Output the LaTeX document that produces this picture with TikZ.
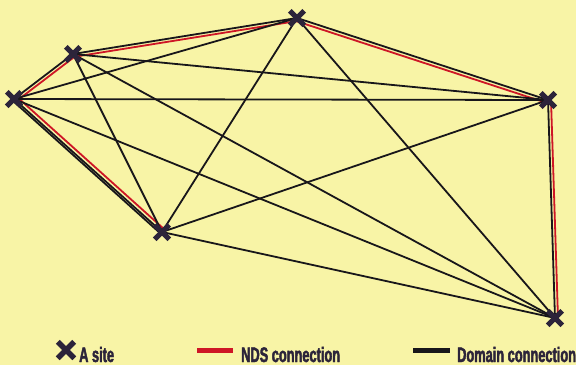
\documentclass[tikz,border=0pt]{standalone}
\usepackage{fontspec}
\newfontfamily\legendfont[UprightFont={* Bold},FakeStretch=0.61,FakeBold=2]{Liberation Sans}
\usetikzlibrary{shapes.misc}
\definecolor{bgyellow}{RGB}{248,244,166}
\definecolor{ndsred}{RGB}{206,22,38}
\definecolor{domblack}{RGB}{24,22,26}
\definecolor{markcol}{RGB}{44,36,58}
\tikzset{
  domline/.style={draw=domblack, line width=1.8pt},
  ndsline/.style={draw=ndsred, line width=1.8pt},
  sitemark/.style={cross out, draw=markcol, line width=5pt, minimum size=9.5pt, inner sep=0pt},
  keysite/.style={cross out, draw=markcol, line width=5.5pt, minimum size=11pt, inner sep=0pt},
  keyline/.style={line width=5pt},
  keytext/.style={anchor=base west, inner sep=0pt, text=markcol, font=\legendfont\fontsize{21}{24}\selectfont}
}
\begin{document}
\begin{tikzpicture}[x=1pt,y=-1pt]
\useasboundingbox[fill=bgyellow] (0,0) rectangle (576,365);
% sites
\coordinate (A) at (73,54);
\coordinate (B) at (297,18);
\coordinate (C) at (14,99);
\coordinate (D) at (548,100);
\coordinate (E) at (162,232);
\coordinate (F) at (555,318);
% NDS connections (offset beside their domain lines)
\draw[ndsline, transform canvas={xshift=2pt,yshift=-2.4pt}] (C) -- (A);
\draw[ndsline, transform canvas={yshift=-3pt}] (A) -- (B);
\draw[ndsline, transform canvas={xshift=-1.2pt,yshift=-3pt}] (B) -- (D);
\draw[ndsline, transform canvas={xshift=3pt}] (D) -- (F);
\draw[ndsline, transform canvas={xshift=2.4pt,yshift=2.6pt}] (C) -- (E);
% domain connections (complete graph)
\draw[domline] (A) -- (B);
\draw[domline] (A) -- (C);
\draw[domline] (A) -- (D);
\draw[domline] (A) -- (E);
\draw[domline] (A) -- (F);
\draw[domline] (B) -- (C);
\draw[domline] (B) -- (D);
\draw[domline] (B) -- (E);
\draw[domline] (B) -- (F);
\draw[domline] (C) -- (D);
\draw[domline] (C) -- (E);
\draw[domline, transform canvas={xshift=-1.5pt,yshift=-1.5pt}] (C) -- (E);
\draw[domline] (C) -- (F);
\draw[domline] (D) -- (E);
\draw[domline] (D) -- (F);
\draw[domline] (E) -- (F);
% site marks
\node[sitemark] (mA) at (A) {};
\node[sitemark] (mB) at (B) {};
\node[sitemark] (mC) at (C) {};
\node[sitemark] (mD) at (D) {};
\node[sitemark] (mE) at (E) {};
\node[sitemark] (mF) at (F) {};
% legend
\node[keysite] (k1) at (66,350) {};
\node[keytext] (t1) at (79,362) {A site};
\coordinate (r1) at (197,350);
\coordinate (r2) at (233,350);
\draw[keyline, ndsred] (r1) -- (r2);
\node[keytext] (t2) at (241,362) {NDS connection};
\coordinate (b1) at (413,350);
\coordinate (b2) at (450,350);
\draw[keyline, domblack] (b1) -- (b2);
\node[keytext] (t3) at (457,362) {Domain connection};
\end{tikzpicture}
\end{document}
